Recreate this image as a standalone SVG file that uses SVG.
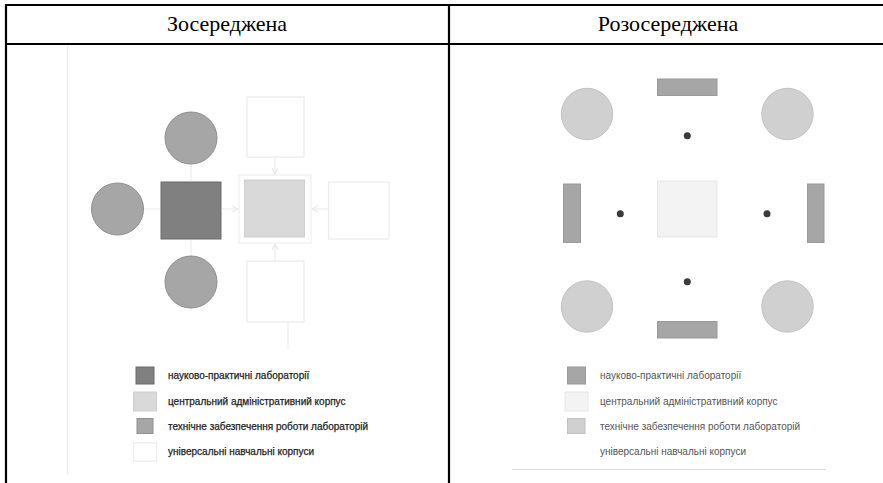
<svg xmlns="http://www.w3.org/2000/svg" width="883" height="483" viewBox="0 0 883 483">
<defs>
<style>
.tbl{stroke:#000;stroke-width:2.2;fill:none}
.hdr{font-family:"Liberation Serif","Times New Roman",serif;font-size:22px;fill:#000;text-anchor:middle}
.lgA{font-family:"Liberation Sans",Arial,sans-serif;font-size:10px;fill:#1e1e1e;stroke:#1e1e1e;stroke-width:0.25}
.lgB{font-family:"Liberation Sans",Arial,sans-serif;font-size:10px;fill:#555}
.lab{fill:#808080;stroke:#6a6a6a;stroke-width:1}
.adm{fill:#d9d9d9;stroke:#cfcfcf;stroke-width:1}
.tech{fill:#a6a6a6;stroke:#8f8f8f;stroke-width:1}
.uni{fill:#fff;stroke:#ececec;stroke-width:1.2}
.techB{fill:#d0d0d0;stroke:#c2c2c2;stroke-width:1}
.labB{fill:#a6a6a6;stroke:#999;stroke-width:1}
.admB{fill:#f3f3f3;stroke:#e6e6e6;stroke-width:1}
.dot{fill:#3a3a3a}
.conn{stroke:#ededed;stroke-width:1.2;fill:none}
</style>
<marker id="ah" viewBox="0 0 10 10" refX="9" refY="5" markerWidth="6" markerHeight="6" orient="auto">
<path d="M1,1 L9,5 L1,9" fill="none" stroke="#e6e6e6" stroke-width="1.5"/>
</marker>
</defs>
<rect width="883" height="483" fill="#fff"/>

<g id="table">
<line class="tbl" x1="5" y1="5" x2="883" y2="5"/>
<line class="tbl" x1="5" y1="44" x2="883" y2="44"/>
<line class="tbl" x1="6" y1="4" x2="6" y2="483"/>
<line class="tbl" x1="449" y1="4" x2="449" y2="483"/>
<text class="hdr" x="227" y="31">Зосереджена</text>
<text class="hdr" x="668" y="31">Розосереджена</text>
</g>

<g id="left-frame">
<line x1="67.5" y1="46" x2="67.5" y2="475" stroke="#ececec" stroke-width="1.5"/>
</g>

<g id="connectors">
<line class="conn" x1="191" y1="164" x2="191" y2="181"/>
<line class="conn" x1="191" y1="240" x2="191" y2="256"/>
<line class="conn" x1="144" y1="209" x2="160" y2="209"/>
<line class="conn" x1="222" y1="209" x2="238" y2="209" marker-end="url(#ah)"/>
<line class="conn" x1="275" y1="157" x2="275" y2="174" marker-end="url(#ah)"/>
<line class="conn" x1="275" y1="261" x2="275" y2="244" marker-end="url(#ah)"/>
<line class="conn" x1="328" y1="209" x2="312" y2="209" marker-end="url(#ah)"/>
<line class="conn" x1="288" y1="322" x2="288" y2="350"/>
</g>

<g id="left-circle-top"><circle class="tech" cx="191" cy="138" r="26"/></g>
<g id="left-circle-left"><circle class="tech" cx="117.5" cy="209" r="26"/></g>
<g id="left-circle-bottom"><circle class="tech" cx="191" cy="282" r="26"/></g>
<g id="left-lab"><rect class="lab" x="161" y="182" width="60" height="57"/></g>
<g id="left-admin">
<rect x="239" y="175" width="72" height="68" fill="none" stroke="#efefef" stroke-width="1.2"/>
<rect class="adm" x="244.5" y="180" width="60" height="57"/>
</g>
<g id="left-uni-top"><rect class="uni" x="247" y="97" width="57" height="60"/></g>
<g id="left-uni-bottom"><rect class="uni" x="247" y="261" width="57" height="61"/></g>
<g id="left-uni-right"><rect class="uni" x="328.5" y="182" width="60.5" height="57"/></g>

<g id="left-legend">
<rect class="lab" x="136" y="367" width="18" height="17"/>
<text class="lgA" x="168" y="378.5">науково-практичні лабораторії</text>
<rect class="adm" x="133.5" y="392" width="23" height="19"/>
<text class="lgA" x="168" y="405">центральний адміністративний корпус</text>
<rect class="tech" x="137" y="418.5" width="16" height="15"/>
<text class="lgA" x="168" y="429.5">технічне забезпечення роботи лабораторій</text>
<rect class="uni" x="133.5" y="443" width="23" height="18"/>
<text class="lgA" x="168" y="455">універсальні навчальні корпуси</text>
</g>

<g id="right-circle-tl"><circle class="techB" cx="587" cy="114" r="25.7"/></g>
<g id="right-circle-tr"><circle class="techB" cx="787.5" cy="114" r="25.7"/></g>
<g id="right-circle-bl"><circle class="techB" cx="587" cy="306.5" r="25.7"/></g>
<g id="right-circle-br"><circle class="techB" cx="787.5" cy="306.5" r="25.7"/></g>
<g id="right-lab-top"><rect class="labB" x="657.5" y="79" width="59.5" height="16.5"/></g>
<g id="right-lab-bottom"><rect class="labB" x="657.5" y="321.5" width="59.5" height="16.5"/></g>
<g id="right-lab-left"><rect class="labB" x="563.5" y="184" width="17" height="58.5"/></g>
<g id="right-lab-right"><rect class="labB" x="807.5" y="184" width="16.5" height="58.5"/></g>
<g id="right-admin"><rect class="admB" x="657.5" y="181" width="59.5" height="56"/></g>
<g id="right-dots">
<circle class="dot" cx="687.3" cy="135.7" r="3.5"/>
<circle class="dot" cx="620.3" cy="213.7" r="3.5"/>
<circle class="dot" cx="767" cy="213.7" r="3.5"/>
<circle class="dot" cx="687.3" cy="281.7" r="3.5"/>
</g>

<g id="right-legend">
<rect class="labB" x="567.5" y="367" width="18" height="17"/>
<text class="lgB" x="600" y="378.5">науково-практичні лабораторії</text>
<rect class="admB" x="565" y="392" width="23" height="19"/>
<text class="lgB" x="600" y="405">центральний адміністративний корпус</text>
<rect class="techB" x="567.5" y="418.5" width="17.5" height="15"/>
<text class="lgB" x="600" y="429.5">технічне забезпечення роботи лабораторій</text>
<text class="lgB" x="600" y="455">універсальні навчальні корпуси</text>
<line x1="512" y1="469.5" x2="826" y2="469.5" stroke="#dcdcdc" stroke-width="1.2"/>
</g>
</svg>
